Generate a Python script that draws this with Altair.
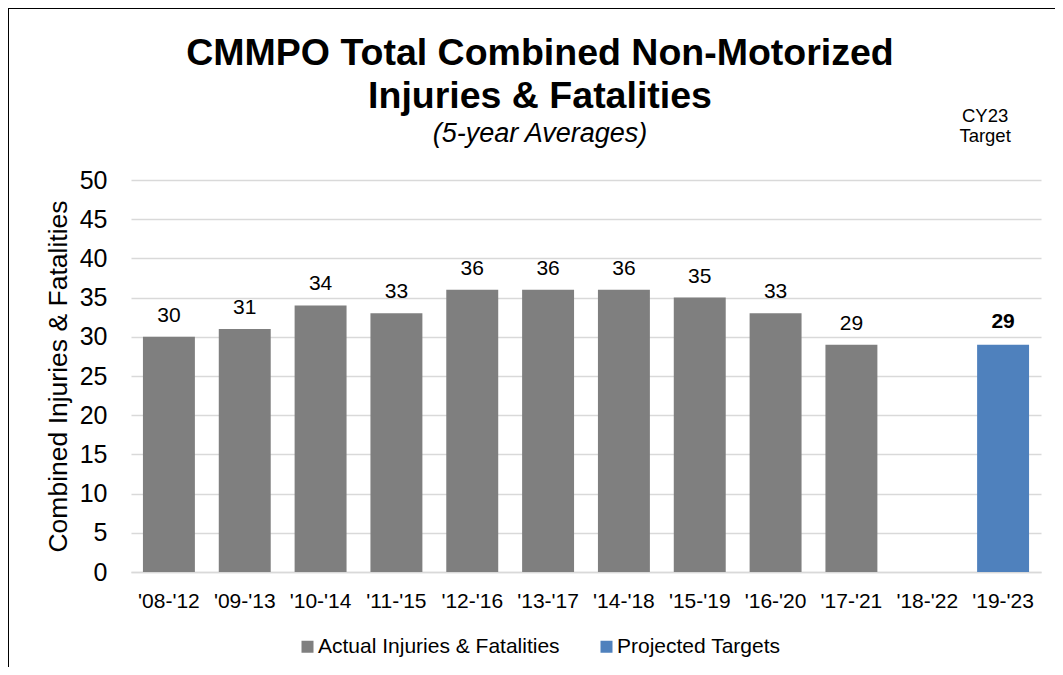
import altair as alt
import pandas as pd

# ---- data ----
periods = ["'08-'12", "'09-'13", "'10-'14", "'11-'15", "'12-'16", "'13-'17",
           "'14-'18", "'15-'19", "'16-'20", "'17-'21", "'18-'22", "'19-'23"]
actual = [30, 31, 34, 33, 36, 36, 36, 35, 33, 29, None, None]
target = [None, None, None, None, None, None, None, None, None, None, None, 29]
series_names = ["Actual Injuries & Fatalities", "Projected Targets"]
series_colors = ["#7f7f7f", "#4f81bd"]
y_ticks = [0, 5, 10, 15, 20, 25, 30, 35, 40, 45, 50]
title_lines = ["CMMPO Total Combined Non-Motorized", "Injuries & Fatalities"]
subtitle_text = "(5-year Averages)"
y_title = "Combined Injuries & Fatalities"
note_text = "CY23\nTarget"
note_period = "'19-'23"

rows = []
for p, a, t in zip(periods, actual, target):
    if a is not None:
        rows.append({"period": p, "value": a, "series": series_names[0]})
    if t is not None:
        rows.append({"period": p, "value": t, "series": series_names[1]})
df = pd.DataFrame(rows)

W, H = 910, 392
PAD = {"left": 123, "top": 172, "right": 14, "bottom": 95}

x_enc = alt.X(
    "period:N", sort=periods,
    scale=alt.Scale(domain=periods, paddingInner=0.315, paddingOuter=0.1575),
    axis=alt.Axis(title=None, labelAngle=0, labelFontSize=21, labelColor="black",
                  labelPadding=18, ticks=False, tickSize=0, domain=True,
                  domainColor="#d9d9d9", domainWidth=1.5, grid=False,
                  labelOverlap=False),
)
y_enc = alt.Y(
    "value:Q", scale=alt.Scale(domain=[0, 50], nice=False, zero=True),
    axis=alt.Axis(values=y_ticks, tickCount=len(y_ticks) + 1, title=y_title,
                  titleFontSize=26.5, titleFontWeight="normal", titleColor="black",
                  titlePadding=7, labelFontSize=25, labelColor="black",
                  labelPadding=24, labelOverlap=False, labelFlush=False,
                  ticks=False, tickSize=0, domain=False,
                  gridColor="#d9d9d9", gridWidth=1.5),
)

base = alt.Chart(df)

bars = base.mark_bar().encode(
    x=x_enc, y=y_enc,
    color=alt.Color(
        "series:N",
        scale=alt.Scale(domain=series_names, range=series_colors),
        legend=alt.Legend(title=None, orient="none", legendX=166, legendY=456,
                          direction="horizontal", symbolType="square",
                          symbolSize=144, symbolStrokeWidth=0, labelFontSize=21,
                          labelColor="black", labelOffset=0, columnPadding=36,
                          padding=0, labelLimit=400),
    ),
)

labels_actual = base.transform_filter(
    alt.datum.series == series_names[0]
).mark_text(dy=-15, baseline="alphabetic", fontSize=21, color="black").encode(
    x=x_enc, y=y_enc, text="value:Q"
)

labels_target = base.transform_filter(
    alt.datum.series == series_names[1]
).mark_text(dy=-17, baseline="alphabetic", fontSize=21, fontWeight="bold",
            color="black").encode(
    x=x_enc, y=y_enc, text="value:Q"
)

note = alt.Chart(pd.DataFrame({"period": [note_period], "note": [note_text]})).mark_text(
    fontSize=18.5, color="black", baseline="alphabetic", lineBreak="\n",
    lineHeight=20, dx=-18,
).encode(x=x_enc, y=alt.value(-58), text="note:N")

# ---- title block (text, positioned above the plot) ----
title_df = pd.DataFrame({"t": ["\n".join(title_lines)]})
title_mark = alt.Chart(title_df).mark_text(
    fontSize=37.5, fontWeight="bold", color="black", baseline="alphabetic",
    align="center", lineBreak="\n", lineHeight=43,
).encode(x=alt.value(409), y=alt.value(-115), text="t:N")

sub_df = pd.DataFrame({"t": [subtitle_text]})
sub_mark = alt.Chart(sub_df).mark_text(
    fontSize=27, fontStyle="italic", color="black", baseline="alphabetic",
    align="center",
).encode(x=alt.value(409), y=alt.value(-38.5), text="t:N")

# ---- outer frame (left and top edges) ----
frame_data = alt.Data(values=[{"k": 1}])
left_border = alt.Chart(frame_data).mark_rule(color="black", strokeWidth=1).encode(
    x=alt.value(-122.5), y=alt.value(-172), y2=alt.value(H + PAD["bottom"])
)
top_border = alt.Chart(frame_data).mark_rule(color="black", strokeWidth=1).encode(
    x=alt.value(-123), x2=alt.value(W + PAD["right"]), y=alt.value(-171.5)
)

chart = alt.layer(
    bars, labels_actual, labels_target, note, title_mark, sub_mark,
    left_border, top_border
).properties(
    width=W, height=H,
    padding=PAD,
    autosize=alt.AutoSizeParams(type="none"),
).configure(font="Liberation Sans", background="white").configure_view(stroke=None)

chart.save("out.html", embed_options={"renderer": "svg", "actions": False})
